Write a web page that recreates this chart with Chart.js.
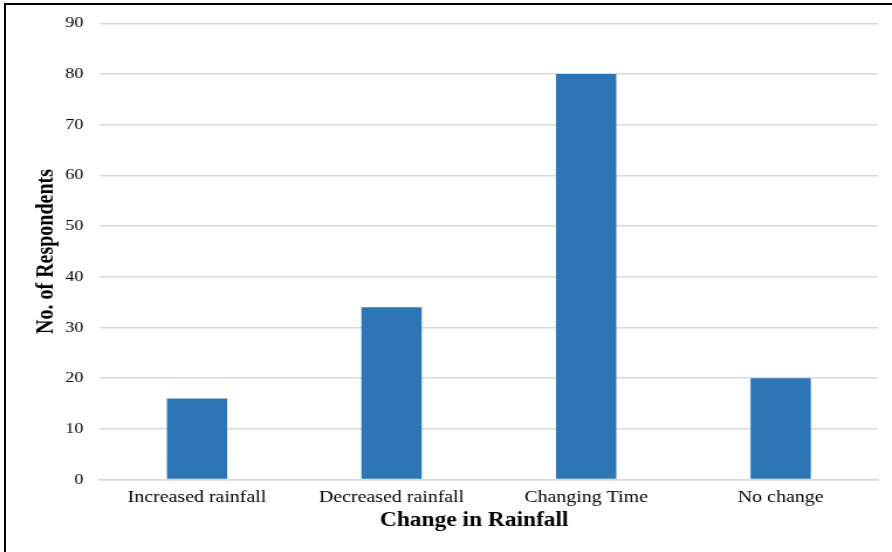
<!DOCTYPE html>
<html>
<head>
<meta charset="utf-8">
<script src="https://cdn.jsdelivr.net/npm/chart.js@4"></script>
<style>
  html, body { margin: 0; padding: 0; background: #fff; }
  #wrap { position: relative; width: 892px; height: 552px; overflow: hidden; }
  #frame { position: absolute; left: 4px; top: 3px; width: 900px; height: 600px;
           border-left: 2px solid #000; border-top: 2px solid #000; }
  /* the figure is drawn a little narrow and widened horizontally */
  #box { position: absolute; left: 0; top: 0; width: 762px; height: 552px;
         transform: scaleX(1.1706); transform-origin: 0 0; }
</style>
</head>
<body>
<div id="wrap">
  <div id="frame"></div>
  <div id="box"><canvas id="c" width="762" height="552"></canvas></div>
</div>
<script>
const categories = ["Increased rainfall", "Decreased rainfall", "Changing Time", "No change"];
const respondents = [16, 34, 80, 20];
const yTicks = [0, 10, 20, 30, 40, 50, 60, 70, 80, 90];

const serif = "'Liberation Serif', 'Times New Roman', serif";

new Chart(document.getElementById('c'), {
  type: 'bar',
  data: {
    labels: categories,
    datasets: [{
      data: respondents,
      backgroundColor: '#2E75B6',
      borderWidth: 0,
      categoryPercentage: 1,
      barPercentage: 0.31
    }]
  },
  options: {
    responsive: false,
    animation: false,
    layout: { padding: { left: 28.2, right: 12, top: 14, bottom: 0 } },
    plugins: { legend: { display: false }, tooltip: { enabled: false } },
    scales: {
      x: {
        grid: { display: false, drawTicks: false },
        border: { color: '#d9d9d9', width: 1.5 },
        ticks: { color: '#000', font: { family: serif, size: 17 }, padding: 8 },
        title: { display: true, text: 'Change in Rainfall\u00a0\u00a0\u00a0\u00a0\u00a0', color: '#000',
                 font: { family: serif, size: 20, weight: 'bold' }, padding: { top: -7, bottom: 19 } }
      },
      y: {
        min: 0, max: 90,
        afterBuildTicks: axis => { axis.ticks = yTicks.map(v => ({ value: v })); },
        grid: { color: '#d9d9d9', lineWidth: 1.5, drawTicks: false },
        border: { display: false },
        ticks: { color: '#000', font: { family: serif, size: 15.5 }, padding: 14 },
        title: { display: true, text: 'No. of Respondents', color: '#000',
                 font: { family: serif, size: 20, weight: 'bold' }, padding: { top: 0, bottom: -10.5 } }
      }
    }
  }
});
</script>
</body>
</html>
